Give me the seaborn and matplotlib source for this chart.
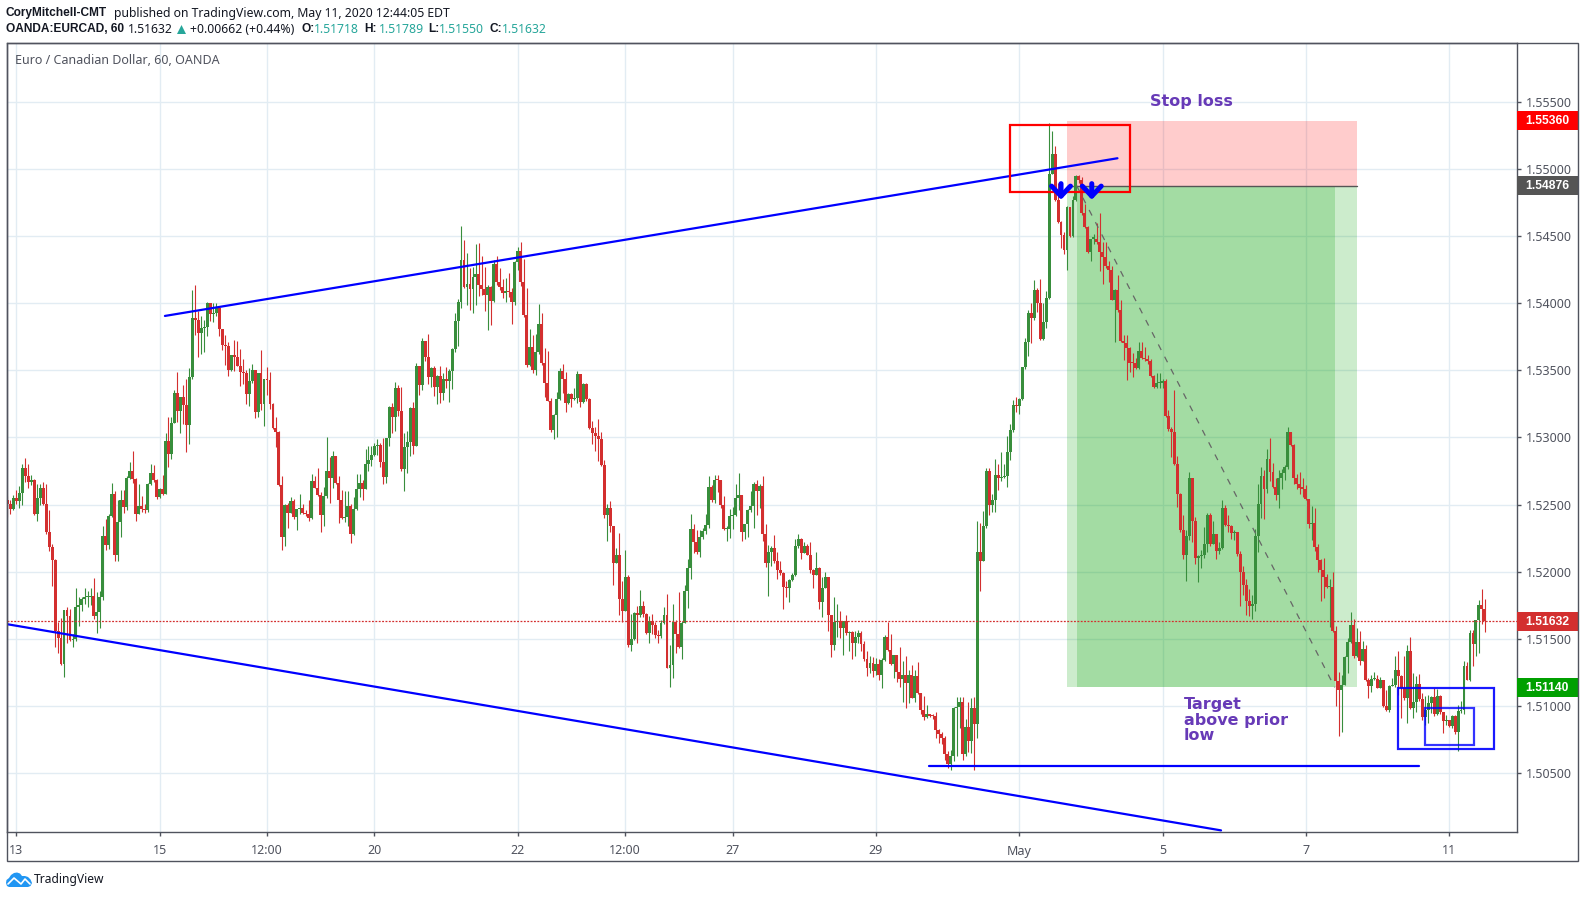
import numpy as np
import matplotlib
matplotlib.use('Agg')
import matplotlib.pyplot as plt
import matplotlib.transforms as mtrans
from matplotlib.patches import Rectangle, Polygon
from matplotlib.lines import Line2D
import seaborn as sns

# all prices are in 0.00001 above 1.50000
first_open = 2537
closes = [
    2502,2468,2552,2527,2590,2776,2712,2669,2682,2428,2552,2627,2507,2296,2184,2089,1561,1511,1312,1718,
    1668,1494,1499,1741,1755,1798,1810,1815,1820,1668,1698,1810,2263,2196,2413,2577,2122,2371,2532,2483,
    2699,2749,2694,2428,2488,2470,2463,2657,2734,2687,2557,2617,2577,2973,2878,3105,3332,3200,3302,3245,
    3095,3449,3892,3872,3775,3815,3822,4001,3917,3924,3964,3805,3685,3683,3503,3611,3603,3536,3484,3479,
    3327,3419,3503,3192,3481,3252,3436,3429,3252,3073,3043,2644,2258,2495,2438,2525,2408,2470,2473,2438,
    2433,2400,2679,2627,2575,2423,2562,2749,2699,2861,2664,2537,2403,2408,2488,
    2283,2465,2620,2664,2617,2806,2831,2866,2936,2943,2819,2707,2993,3227,3155,3369,3200,2766,2926,2963,
    3217,2938,3533,3394,3718,3603,3454,3516,3379,3459,3334,3436,3424,3498,3658,3867,4009,4325,4121,4143,
    4104,4196,4218,4133,4104,4059,4121,4014,4295,4156,4118,4074,4094,4086,4006,4305,4390,4156,3914,3543,
    3673,3503,3635,3845,3551,3409,3274,3055,3165,3284,3496,3439,3259,3324,3289,3292,3474,3267,3401,3284,
    3070,3035,3010,2991,2794,2420,2478,2338,2064,2122,1795,1706,1965,1457,1499,1693,1676,1746,1686,1546,
    1631,1606,1526,1519,1619,1678,1287,1307,1626,1536,1437,1616,1860,2029,2321,2221,2146,
    2258,2303,2351,2629,2537,2687,2682,2500,2321,2321,2413,2420,2552,2570,2296,2353,2458,2488,2657,2602,
    2642,2283,2064,2149,2181,2079,2014,1990,1885,1880,1940,1977,2189,2241,2139,2189,2127,2012,1975,2032,
    1773,1880,1965,1678,1452,1626,1634,1581,1634,1546,1551,1467,1517,1546,1462,1350,1287,1322,1262,1312,
    1235,1342,1517,1419,1317,1382,1257,1203,1233,1175,1233,1063,1225,1098,974,921,939,929,924,819,794,760,
    645,570,627,984,996,1031,640,844,739,986,869,2144,2079,2338,2749,2495,
    2532,2724,2699,2709,2712,2891,3053,3242,3232,3287,3522,3709,3926,3888,4100,4005,3732,3858,4038,4964,
    5109,4767,4603,4508,4399,4713,4498,4767,4944,4917,4668,4566,4379,4481,4481,4454,4379,4344,4274,4249,
    4025,4100,3951,3722,3702,3664,3557,3552,3520,3644,3590,3582,3572,3460,3373,3403,3408,3418,
    3160,3063,3043,2802,2580,2309,2122,2264,2697,2378,2102,2117,2122,2204,2426,2209,2284,2154,2179,2473,
    2346,2339,2289,2294,2129,1995,1905,1781,1744,1761,2264,2508,2712,2618,2839,2745,2632,2570,2695,2732,
    2779,3041,2944,2700,2657,2627,2620,2540,2354,2366,2184,2085,2010,1965,1885,1890,1557,
    1185,1122,1160,1367,1479,1601,1371,1479,1334,1429,1192,1147,1202,1205,1137,1197,998,968,1147,1160,
    1267,1222,1135,1060,1414,986,1030,1167,1053,918,973,1023,1065,943,1078,953,886,896,849,926,811,961,
    973,1302,1197,1541,1459,1640,1750,1725,1633,
]
highs = [
    2562,2537,2570,2607,2637,2801,2846,2806,2719,2694,2657,2657,2669,2657,2458,2204,2097,1623,1653,1718,
    1741,1723,1536,1882,1815,1815,1882,1855,1882,1957,1850,1860,2338,2390,2433,2659,2600,2532,2607,2612,
    2712,2816,2898,2702,2652,2562,2502,2662,2801,2794,2694,2627,2719,3030,3155,3155,3354,3489,3302,3391,
    3436,3516,4096,4138,3939,3907,3877,4011,4001,4001,4001,3959,3805,3765,3708,3616,3728,3715,3658,3586,
    3503,3516,3548,3503,3481,3653,3436,3526,3486,3254,3155,3048,2712,2507,2512,2557,2545,2470,2577,2507,
    2458,2537,2727,2712,2771,2592,2632,3003,2856,2901,2861,2714,2607,2602,2602,
    2507,2555,2727,2727,2682,2916,2936,2936,2956,2986,2961,2993,2993,3235,3259,3414,3391,3376,3030,3045,
    3230,3264,3558,3533,3743,3718,3772,3528,3533,3466,3533,3479,3523,3508,3665,3929,4034,4572,4467,4370,
    4263,4271,4437,4445,4350,4270,4138,4131,4320,4350,4263,4181,4188,4226,4113,4313,4415,4457,4330,4116,
    3807,3765,3772,3997,3929,3665,3645,3292,3175,3339,3518,3548,3488,3334,3334,3372,3493,3474,3409,3404,
    3292,3125,3075,3137,3043,2831,2502,2525,2343,2179,2288,1935,2166,1980,1686,1698,1748,1868,1785,1691,
    1673,1686,1623,1564,1642,1736,1835,1453,1761,1641,1852,1636,1905,2097,2433,2358,2308,
    2313,2328,2433,2712,2644,2719,2719,2687,2562,2338,2465,2483,2652,2739,2575,2353,2470,2600,2667,2682,
    2657,2712,2353,2196,2189,2271,2146,2079,1995,1935,1945,1990,2244,2283,2253,2224,2209,2219,2022,2151,
    2034,1960,2002,1965,1681,1815,1760,1711,1636,1681,1561,1556,1561,1566,1556,1487,1411,1375,1367,1362,
    1350,1362,1531,1626,1536,1382,1382,1442,1337,1375,1267,1307,1272,1330,1098,1076,1009,944,939,959,827,809,
    777,665,677,994,1068,1068,1068,901,1033,1058,1068,2376,2364,2453,2774,2776,
    2582,2839,2806,2891,2806,3010,3100,3279,3299,3292,3527,3739,3951,4000,4175,4110,4180,4000,4088,5345,
    5280,5168,4897,4613,4533,4723,4718,4797,4952,4957,4942,4742,4578,4481,4518,4598,4668,4454,4454,4312,
    4274,4105,4212,4020,3764,3764,3677,3627,3590,3709,3709,3677,3615,3582,3465,3478,3478,3433,
    3434,3205,3076,3355,2862,2588,2421,2314,2742,2697,2408,2122,2159,2334,2438,2438,2376,2284,2222,2533,
    2496,2421,2346,2309,2296,2154,2047,1948,1875,1831,2319,2652,2782,2757,2914,2996,2807,2695,2757,2769,
    2794,3076,3041,2951,2725,2745,2695,2645,2540,2488,2473,2204,2097,2105,1985,1943,2002,
    1596,1252,1235,1371,1508,1703,1650,1583,1558,1484,1458,1210,1235,1252,1235,1217,1152,1118,1160,1210,
    1376,1409,1235,1371,1458,1516,1247,1222,1242,1098,1073,1085,1073,1135,1127,1085,953,936,898,936,936,1010,
    1035,1334,1329,1566,1566,1645,1790,1869,1795,
]
lows = [
    2408,2428,2458,2502,2478,2495,2669,2625,2644,2420,2378,2495,2495,2283,2154,1892,1442,1399,1307,1220,
    1467,1487,1444,1487,1599,1706,1760,1736,1755,1648,1541,1581,1790,2166,2171,2408,2079,2079,2258,2438,
    2458,2694,2662,2378,2433,2443,2438,2445,2644,2669,2542,2552,2570,2577,2781,2841,3105,3118,3035,3100,
    2893,2951,3434,3760,3596,3623,3633,3752,3865,3857,3907,3752,3653,3541,3459,3498,3498,3536,3384,3399,
    3249,3235,3404,3147,3155,3205,3088,3319,3215,3060,2931,2637,2159,2189,2323,2438,2395,2308,2428,2433,
    2413,2378,2395,2627,2567,2296,2341,2552,2512,2627,2652,2363,2395,2371,2338,
    2214,2271,2458,2557,2535,2617,2751,2789,2861,2869,2781,2652,2662,2936,3035,3050,3160,2751,2602,2737,
    2861,2876,2938,3317,3354,3573,3399,3379,3312,3249,3259,3279,3371,3267,3364,3633,3678,3962,4111,3989,
    3947,3924,3989,4051,4064,3939,3797,3840,4009,4138,4101,4039,4012,4046,3847,3989,4245,4131,3897,3528,
    3533,3479,3466,3623,3541,3304,3269,3043,2988,3000,3279,3334,3190,3249,3230,3279,3259,3230,3259,3274,
    3060,2951,2901,2826,2786,2403,2229,2296,1905,2064,1681,1629,1706,1444,1412,1492,1467,1661,1666,1536,
    1472,1536,1511,1467,1511,1611,1282,1143,1213,1399,1432,1350,1616,1728,1947,2139,2129,
    2114,2246,2278,2328,2520,2512,2595,2475,2313,2229,2249,2321,2413,2458,2229,2246,2258,2445,2326,2420,
    2475,2229,2039,1823,2047,2064,1945,1980,1721,1815,1778,1935,1970,2179,2094,2139,2122,1990,1878,1975,
    1723,1661,1880,1561,1367,1416,1512,1507,1383,1531,1411,1352,1375,1467,1411,1337,1225,1250,1220,1233,
    1193,1135,1337,1407,1307,1208,1183,1143,1031,989,1026,1058,1033,1088,944,894,914,919,901,760,727,720,
    602,540,528,595,627,839,602,632,660,652,528,765,1855,2079,2328,2420,
    2445,2445,2607,2677,2699,2632,2831,3043,3192,3177,3280,3507,3607,3703,3876,3938,3727,3727,3814,4030,
    4959,4760,4598,4411,4369,4245,4494,4493,4760,4897,4653,4561,4374,4312,4444,4444,4237,4145,4262,4155,
    4020,3714,3938,3714,3577,3428,3490,3448,3512,3507,3582,3572,3547,3453,3366,3366,3366,3366,
    3150,3051,2857,2794,2483,2296,2092,1928,2234,2222,2055,1923,2025,2105,2147,2189,2209,2092,2134,2172,
    2339,2296,2246,2234,2115,1749,1831,1681,1674,1651,1711,2147,2398,2391,2588,2677,2627,2533,2476,2620,
    2682,2769,2936,2657,2620,2583,2554,2533,2329,2234,2154,1995,1786,1806,1880,1587,1549,
    1003,779,811,1160,1247,1471,1359,1366,1309,1334,1185,1060,1103,1192,1132,1137,993,961,953,1147,
    1142,1085,911,1048,878,978,908,953,1035,898,861,873,948,923,936,943,799,861,844,836,794,669,
    948,943,1192,1185,1302,1371,1396,1608,1551,
]

tick_pos = [3, 51, 87, 123, 171, 207, 243, 291, 339, 387, 435, 483]
tick_labels = ['13', '15', '12:00', '20', '22', '12:00', '27', '29', 'May', '5', '7', '11']
price_ticks = [500, 1000, 1500, 2000, 2500, 3000, 3500, 4000, 4500, 5000, 5500]

last_price = 1632
entry = 4876
stop = 5360
target = 1140
# price tags on the scale: value, colour
price_tags = [(stop, '#ff0000'), (entry, '#555555'), (last_price, '#d32f2f'), (target, '#00a000')]

# drawings on the chart (bar number, price)
upper_trend_x, upper_trend_y = [52.8, 371.9], [3905, 5079]
lower_trend_x, lower_trend_y = [-0.3, 406.6], [1611, 75]
prior_low_x, prior_low_y = [308.8, 473], [557, 557]
diag_x, diag_y = [358.2, 444.7], [4876, 1140]
pos_left, pos_right = 355.1, 452.3
inner_left, inner_right = 358.2, 444.7
red_box = (335.9, 376.2, 4830, 5329)
blue_box = (465.9, 498.2, 681, 1137)
small_box = (475.0, 491.2, 711, 988)
arrows_x = [353.0, 363.3]
arrow_top, arrow_tip = 4890, 4770

W, H = 1584, 898
AX_L, AX_R, AX_T, AX_B = 6.5, 1517, 43, 832
FRAME_R, FRAME_B = 1578, 861
GREEN, RED = '#388e3c', '#d32f2f'
GRID = '#e2ecf3'
LINE = '#50535e'
PURPLE = '#673ab7'
BOLD = 'Liberation Sans'

sns.set_theme(style='white')
plt.rcParams['font.family'] = ['Noto Sans', 'DejaVu Sans']

fig = plt.figure(figsize=(W / 100, H / 100), dpi=100)
ax = fig.add_axes([AX_L / W, 1 - AX_B / H, (AX_R - AX_L) / W, (AX_B - AX_T) / H])
ax.set_xlim(-0.27, 505.75)
ax.set_ylim(63, 5937)

closes_arr = np.array(closes)
opens_arr = np.array([first_open] + closes[:-1])
idx = np.arange(len(closes))
colors = [GREEN if c >= o else RED for c, o in zip(closes_arr, opens_arr)]

ax.set_xticks(tick_pos)
ax.set_xticklabels(tick_labels)
ax.set_yticks(price_ticks)
ax.set_yticklabels([f'{1.5 + p / 1e5:.5f}' for p in price_ticks])
ax.yaxis.tick_right()
ax.grid(True, color=GRID, lw=1)
ax.set_axisbelow(True)
ax.tick_params(axis='x', length=3, width=1, color=LINE, labelcolor=LINE, labelsize=9, pad=6, bottom=True)
ax.tick_params(axis='y', length=3, width=1, color=LINE, labelcolor=LINE, labelsize=9, pad=3.2, right=True, left=False)
for s in ax.spines.values():
    s.set_color(LINE)
    s.set_linewidth(1)

# position tool
ax.axhspan(entry, stop, xmin=(pos_left + 0.27) / 506.02, xmax=(pos_right + 0.27) / 506.02,
           color='#ff0000', alpha=0.2, lw=0, zorder=1)
for a, b in [(pos_left, pos_right), (inner_left, inner_right)]:
    ax.add_patch(Rectangle((a, target), b - a, entry - target, color='#00a000', alpha=0.2, lw=0, zorder=1))
sns.lineplot(x=[pos_left, pos_right], y=[entry, entry], color='#555555', lw=1, ax=ax, zorder=2)

# candles
ax.vlines(idx, lows, highs, colors=colors, lw=0.8, zorder=3)
body_low = np.minimum(closes_arr, opens_arr)
body_h = np.maximum(np.abs(closes_arr - opens_arr), 8)
ax.bar(idx, body_h, bottom=body_low, width=0.98, color=colors, lw=0, zorder=3)

ax.axhline(last_price, color=RED, lw=0.9, ls=(0, (1.5, 1.2)), zorder=4)

sns.lineplot(x=diag_x, y=diag_y, color='#666666', lw=0.9, ls=(0, (5, 6)), ax=ax, zorder=4)
for xs, ys in [(upper_trend_x, upper_trend_y), (lower_trend_x, lower_trend_y), (prior_low_x, prior_low_y)]:
    sns.lineplot(x=xs, y=ys, color='#0000ff', lw=1.6, ax=ax, zorder=5)

for (x0, x1, y0, y1), col, a in [(red_box, '#ff0000', 1), (blue_box, '#0000ff', 0.9), (small_box, '#0000ff', 0.8)]:
    ax.add_patch(Rectangle((x0, y0), x1 - x0, y1 - y0, fill=False, ec=col, lw=1.6, alpha=a, zorder=5))

for ax_x in arrows_x:
    ax.annotate('', xy=(ax_x, arrow_tip), xytext=(ax_x, arrow_top),
                arrowprops=dict(arrowstyle='->,head_length=0.36,head_width=0.34', color='#0000ff', lw=3.6,
                                mutation_scale=20, shrinkA=0, shrinkB=0), zorder=6)

# price tags on the scale
tag_w = (FRAME_R - AX_R) / (AX_R - AX_L)
for val, col in price_tags:
    ax.add_patch(Rectangle((1, val - 70), tag_w, 140, transform=ax.get_yaxis_transform(), color=col,
                           lw=0, clip_on=False, zorder=6))
    ax.text(1 + 8.5 / (AX_R - AX_L), val - 6, f'{1.5 + val / 1e5:.5f}', transform=ax.get_yaxis_transform(),
            color='white', fontsize=8.7, fontweight='bold', family=BOLD, va='center', ha='left', zorder=7)


def ptext(x, y, s, **kw):
    kw.setdefault('va', 'center')
    return fig.text(x / W, 1 - y / H, s, **kw)


# outer frame
fig.add_artist(Rectangle((AX_L / W, 1 - FRAME_B / H), (FRAME_R - AX_L) / W, (FRAME_B - AX_T) / H,
                         transform=fig.transFigure, fill=False, ec=LINE, lw=1))

DARK = '#131722'
TEAL = '#26a69a'
hdr = 8.8
bhdr = 8.6
ptext(6, 13, 'CoryMitchell-CMT', fontsize=bhdr, fontweight='bold', family=BOLD, color=DARK)
ptext(113.5, 13, 'published on TradingView.com, May 11, 2020 12:44:05 EDT', fontsize=hdr, color=DARK)
ptext(6, 29.5, 'OANDA:EURCAD, 60', fontsize=bhdr, fontweight='bold', family=BOLD, color=DARK)
ptext(127.5, 29.5, '1.51632', fontsize=hdr, color=DARK)
ptext(190, 29.5, '+0.00662 (+0.44%)', fontsize=hdr, color=DARK)
for x, s in [(301, 'O:'), (364, 'H:'), (428, 'L:'), (489, 'C:')]:
    ptext(x, 29.5, s, fontsize=bhdr, fontweight='bold', family=BOLD, color=DARK)
for x, s in [(314, '1.51718'), (378.5, '1.51789'), (439, '1.51550'), (502, '1.51632')]:
    ptext(x, 29.5, s, fontsize=hdr, color=TEAL)

px_tr = mtrans.Affine2D().scale(1 / W, -1 / H).translate(0, 1) + fig.transFigure
fig.add_artist(Polygon([(177, 34), (186, 34), (181.5, 25)], closed=True, color=TEAL, lw=0, transform=px_tr))

ptext(15, 60.5, 'Euro / Canadian Dollar, 60, OANDA', fontsize=9, color='#50535e')

ptext(1150.5, 101.5, 'Stop loss', fontsize=11.5, fontweight='bold', color=PURPLE, family='DejaVu Sans')
for y, s in [(704.5, 'Target'), (720.5, 'above prior'), (736, 'low')]:
    ptext(1184, y, s, fontsize=11.5, fontweight='bold', color=PURPLE, family='DejaVu Sans')

# TradingView logo
cloud = [(6, 883), (6.5, 880), (9, 878), (11, 875), (14, 873), (17, 872.5), (20, 873.5), (22, 876), (25, 876),
         (28, 877), (30.5, 879.5), (32, 883), (30.5, 886), (28, 887), (9, 887), (7, 886)]
fig.add_artist(Polygon(cloud, closed=True, color='#2196f3', lw=0, transform=px_tr))
fig.add_artist(Line2D([8, 14, 21, 25, 30], [884, 878, 884, 879, 884], color='white', lw=1.2, transform=px_tr))
ptext(34, 879.5, 'TradingView', fontsize=8.7, color=DARK)

fig.savefig('out.png', dpi=100)
